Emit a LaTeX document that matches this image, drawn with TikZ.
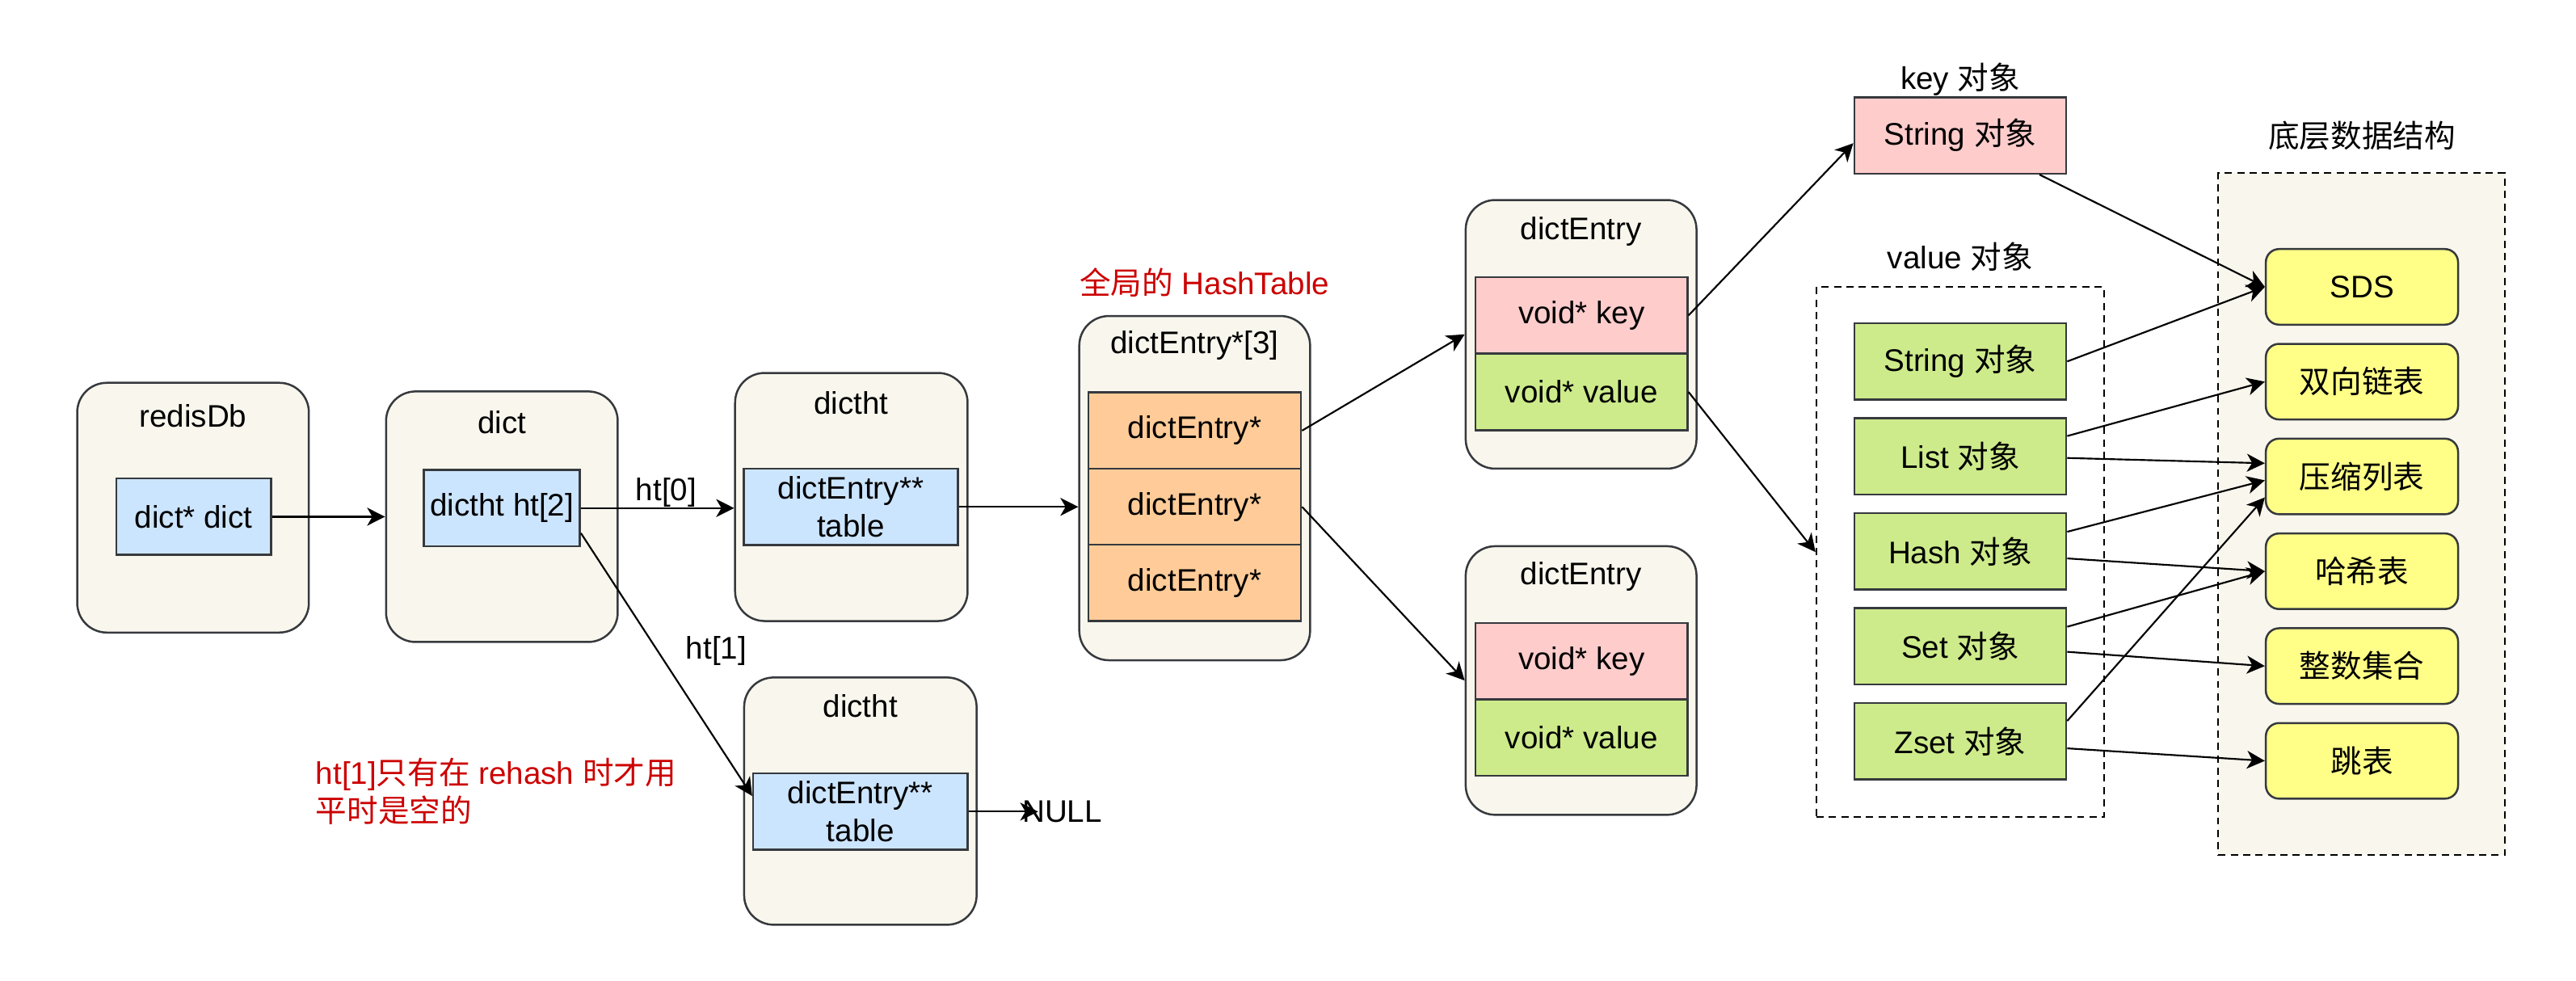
\documentclass[tikz,border=0pt]{standalone}
\usepackage{fontspec}
\setmainfont{Liberation Sans}
\newfontfamily\cjk{Noto Sans CJK SC}
\usetikzlibrary{arrows.meta, calc}
\definecolor{strokeGray}{HTML}{36393D}
\definecolor{creamFill}{HTML}{F9F7ED}
\definecolor{blueFill}{HTML}{CCE5FF}
\definecolor{orangeFill}{HTML}{FFCC99}
\definecolor{pinkFill}{HTML}{FFCCCC}
\definecolor{greenFill}{HTML}{CDEB8B}
\definecolor{yellowFill}{HTML}{FFFF88}
\definecolor{noteRed}{HTML}{CC0000}
\tikzstyle{holder}=[shape = rectangle, rounded corners = 0.36cm, draw = strokeGray, fill = creamFill, line width = 0.7pt, inner sep = 0pt]
\tikzstyle{field}=[shape = rectangle, draw = strokeGray, line width = 0.7pt, inner sep = 0pt, align = center]
\tikzstyle{group}=[shape = rectangle, draw = black, line width = 0.6pt, dash pattern = on 2.5pt off 1.8pt, inner sep = 0pt]
\tikzstyle{link}=[-{Stealth[length = 6.2pt, width = 6.2pt, inset = 1.8pt]}, line width = 0.6pt]

\begin{document}
\begin{tikzpicture}[x = 0.2mm, y = -0.2mm]
\tikzstyle{every node}=[font = \fontsize{10.8}{13.2}\selectfont]
\tikzstyle{ptrField}=[field, fill = blueFill, minimum height = 0.93cm]
\tikzstyle{slotField}=[field, fill = orangeFill, minimum width = 2.59cm, minimum height = 0.93cm]
\tikzstyle{keyField}=[field, fill = pinkFill, minimum width = 2.58cm, minimum height = 0.93cm]
\tikzstyle{valField}=[field, fill = greenFill, minimum width = 2.58cm, minimum height = 0.93cm]
\tikzstyle{baseField}=[field, fill = yellowFill, rounded corners = 0.16cm, minimum width = 2.34cm, minimum height = 0.92cm]
\useasboundingbox (0,0) rectangle (1568,597);
% containers
\node[holder, minimum width = 2.82cm, minimum height = 3.04cm] (redisDb) at (117.5, 309) {};
\node[holder, minimum width = 2.82cm, minimum height = 3.05cm] (dict) at (305.5, 314.5) {};
\node[holder, minimum width = 2.83cm, minimum height = 3.02cm] (dictht0) at (518.2, 302.5) {};
\node[holder, minimum width = 2.83cm, minimum height = 3.01cm] (dictht1) at (523.7, 487.6) {};
\node[holder, minimum width = 2.81cm, minimum height = 4.19cm] (entryArr) at (727.2, 297.1) {};
\node[holder, minimum width = 2.81cm, minimum height = 3.27cm] (entry0) at (962.4, 203.5) {};
\node[holder, minimum width = 2.81cm, minimum height = 3.27cm] (entry1) at (962.4, 414.2) {};
\node (redisDbTitle) at (117.5, 253) {redisDb};
\node (dictTitle) at (305.5, 256.9) {dict};
\node (dictht0Title) at (518.2, 245.4) {dictht};
\node (dictht1Title) at (523.7, 429.8) {dictht};
\node (entryArrTitle) at (727.2, 210.4) {dictEntry*[3]};
\node (entry0Title) at (962.4, 140.8) {dictEntry};
\node (entry1Title) at (962.4, 350.8) {dictEntry};
% fields
\node[ptrField, minimum width = 1.88cm] (dictPtr) at (117.9, 314.5) {dict* dict};
\node[ptrField, minimum width = 1.9cm] (htArr) at (305.5, 309.25) {dictht ht[2]};
\node[ptrField, minimum width = 2.61cm] (table0) at (517.9, 308.5) {dictEntry**\\table};
\node[ptrField, minimum width = 2.61cm] (table1) at (523.7, 494) {dictEntry**\\table};
\node[slotField] (slot1) at (727.2, 262.1) {dictEntry*};
\node[slotField] (slot2) at (727.2, 308.5) {dictEntry*};
\node[slotField] (slot3) at (727.2, 354.8) {dictEntry*};
\node[keyField] (key0) at (962.7, 191.95) {void* key};
\node[valField] (val0) at (962.7, 238.6) {void* value};
\node[keyField] (key1) at (962.7, 402.35) {void* key};
\node[valField] (val1) at (962.7, 449) {void* value};
% objects
\node (keyTitle) at (1193.2, 48.1) {key {\cjk 对象}};
\node[keyField] (keyObj) at (1193.2, 82.4) {String {\cjk 对象}};
\node (valTitle) at (1193.2, 156.4) {value {\cjk 对象}};
\node[group, minimum width = 3.5cm, minimum height = 6.45cm] (valGroup) at (1193.1, 336) {};
\node[valField] (strObj) at (1193.2, 220) {String {\cjk 对象}};
\node[valField] (listObj) at (1193.2, 277.8) {List {\cjk 对象}};
\node[valField] (hashObj) at (1193.2, 335.6) {Hash {\cjk 对象}};
\node[valField] (setObj) at (1193.2, 393.4) {Set {\cjk 对象}};
\node[valField] (zsetObj) at (1193.2, 451.2) {Zset {\cjk 对象}};
% underlying structures
\node (baseTitle) at (1437.7, 82.4) {{\cjk 底层数据结构}};
\node[group, fill = creamFill, minimum width = 3.49cm, minimum height = 8.3cm] (baseGroup) at (1437.5, 312.9) {};
\node[baseField] (sds) at (1437.7, 174.6) {SDS};
\node[baseField] (dList) at (1437.7, 232.3) {{\cjk 双向链表}};
\node[baseField] (zipList) at (1437.7, 290) {{\cjk 压缩列表}};
\node[baseField] (hashTable) at (1437.7, 347.7) {{\cjk 哈希表}};
\node[baseField] (intSet) at (1437.7, 405.4) {{\cjk 整数集合}};
\node[baseField] (skipList) at (1437.7, 463.1) {{\cjk 跳表}};
% notes
\node[text = noteRed] (globalNote) at (733.2, 171.9) {{\cjk 全局的} HashTable};
\node[text = noteRed, anchor = west, align = left, inner sep = 0pt] (rehashNote) at (191.9, 481.6) {ht[1]{\cjk 只有在} rehash {\cjk 时才用}\\{\cjk 平时是空的}};
\node (ht0Label) at (405.5, 300) {ht[0]};
\node (ht1Label) at (436, 396.4) {ht[1]};
\node[anchor = west, inner sep = 0pt] (nullLabel) at (621.9, 494) {NULL};
% links
\draw[link] (dictPtr.east) -- (dictPtr.east -| dict.west);
\draw[link] (htArr.east) -- (htArr.east -| dictht0.west);
\draw[link] ($(htArr.north east)!0.82!(htArr.south east)$) -- ($(table1.north west)!0.3!(table1.south west)$);
\draw[link] (table0.east) -- (table0.east -| entryArr.west);
\draw[link] (table1.east) -- ([xshift = 0.2cm]nullLabel.west);
\draw[link] (slot1.east) -- (entry0.west);
\draw[link] (slot2.east) -- (entry1.west);
\draw[link] (key0.east) -- ($(keyObj.west)!0.2!(keyObj.south west)$);
\draw[link] (val0.east) -- (valGroup.west);
\draw[link] ($(keyObj.south west)!0.87!(keyObj.south east)$) -- (sds.west);
\draw[link] (strObj.east) -- (sds.west);
\draw[link] ($(listObj.north east)!0.24!(listObj.south east)$) -- (dList.west);
\draw[link] ($(listObj.north east)!0.52!(listObj.south east)$) -- ($(zipList.north west)!0.33!(zipList.south west)$);
\draw[link] ($(hashObj.north east)!0.25!(hashObj.south east)$) -- ($(zipList.north west)!0.55!(zipList.south west)$);
\draw[link] ($(hashObj.north east)!0.59!(hashObj.south east)$) -- (hashTable.west);
\draw[link] ($(setObj.north east)!0.25!(setObj.south east)$) -- (hashTable.west);
\draw[link] ($(setObj.north east)!0.57!(setObj.south east)$) -- (intSet.west);
\draw[link] ($(zsetObj.north east)!0.24!(zsetObj.south east)$) -- ($(zipList.north west)!0.77!(zipList.south west)$);
\draw[link] ($(zsetObj.north east)!0.59!(zsetObj.south east)$) -- (skipList.west);
\end{tikzpicture}
\end{document}
